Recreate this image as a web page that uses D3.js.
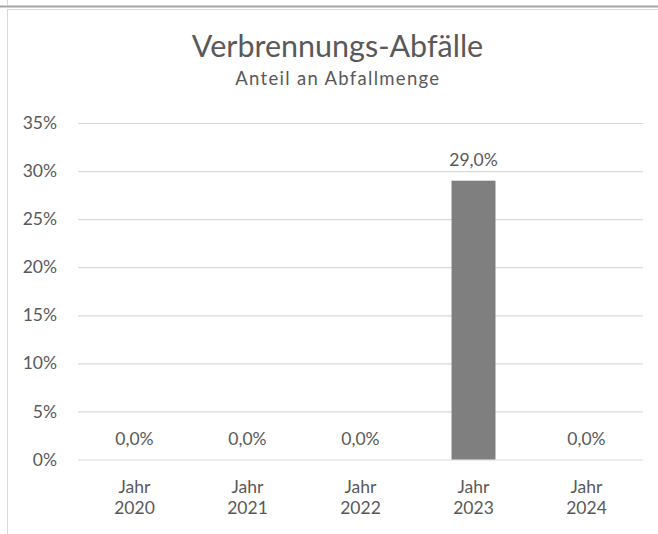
<!DOCTYPE html>
<html>
<head>
<meta charset="utf-8">
<script src="https://cdn.jsdelivr.net/npm/d3@7/dist/d3.min.js"></script>
<style>
  html, body { margin: 0; padding: 0; background: #ffffff; }
  svg { display: block; }
  text { font-family: Lato, "Noto Sans", sans-serif; fill: #595959; }
</style>
</head>
<body>
<svg id="chart" width="658" height="534"></svg>
<script>
// ---- data ----
const categories = ["Jahr 2020", "Jahr 2021", "Jahr 2022", "Jahr 2023", "Jahr 2024"];
const values = [0.0, 0.0, 0.0, 0.29, 0.0];
const yTicks = [0, 0.05, 0.10, 0.15, 0.20, 0.25, 0.30, 0.35];
const title = "Verbrennungs-Abfälle";
const subtitle = "Anteil an Abfallmenge";

// ---- setup ----
const svg = d3.select("#chart");
const W = 658, H = 534;
const plot = { left: 78, right: 643, top: 123, bottom: 459.5 };

const de = d3.formatLocale({ decimal: ",", thousands: ".", grouping: [3], currency: ["", " €"] });
const fmtVal = de.format(".1%");
const fmtTick = de.format(".0%");

// frame lines (surrounding sheet elements)
svg.append("line").attr("x1", 7.5).attr("x2", 7.5).attr("y1", 0).attr("y2", 5)
  .attr("stroke", "#d9d9d9").attr("stroke-width", 1);
svg.append("line").attr("x1", 0).attr("x2", W).attr("y1", 6.5).attr("y2", 6.5)
  .attr("stroke", "#a6a6a6").attr("stroke-width", 2);
svg.append("rect").attr("x", 7.5).attr("y", 9.5).attr("width", W + 20).attr("height", H + 20)
  .attr("fill", "#ffffff").attr("stroke", "#d9d9d9").attr("stroke-width", 1);

const x = d3.scaleBand().domain(categories)
  .range([plot.left, plot.right]).paddingInner(0.611).paddingOuter(0.3055);
const y = d3.scaleLinear().domain([0, 0.35]).range([plot.bottom, plot.top]);

// gridlines via axis
const yAxis = d3.axisLeft(y).tickValues(yTicks).tickFormat(fmtTick)
  .tickSize(-(plot.right - plot.left)).tickPadding(21);
const gy = svg.append("g").attr("transform", `translate(${plot.left},0)`).call(yAxis);
gy.select(".domain").remove();
gy.selectAll(".tick line").attr("stroke", "#d9d9d9").attr("stroke-width", 1.2);
gy.selectAll(".tick text").attr("fill", "#595959").style("font-size", "17.5px")
  .style("font-family", "Lato, 'Noto Sans', sans-serif");

// bars
svg.append("g").selectAll("rect").data(values).join("rect")
  .attr("x", (d, i) => x(categories[i]))
  .attr("width", x.bandwidth())
  .attr("y", d => y(d))
  .attr("height", d => y(0) - y(d))
  .attr("fill", "#7f7f7f");

// data labels
svg.append("g").selectAll("text").data(values).join("text")
  .attr("x", (d, i) => x(categories[i]) + x.bandwidth() / 2)
  .attr("y", d => y(d) - 15)
  .attr("text-anchor", "middle")
  .style("font-size", "17.5px")
  .text(d => fmtVal(d));

// x axis labels (two lines)
const xl = svg.append("g").selectAll("text").data(categories).join("text")
  .attr("text-anchor", "middle")
  .attr("x", d => x(d) + x.bandwidth() / 2)
  .attr("y", y(0) + 33.5)
  .style("font-size", "17.5px");
xl.each(function (d) {
  const parts = d.split(" ");
  const t = d3.select(this);
  parts.forEach((p, k) => {
    t.append("tspan").attr("x", x(d) + x.bandwidth() / 2)
      .attr("dy", k === 0 ? 0 : 21).text(p);
  });
});

// titles
svg.append("text").attr("x", 337.5).attr("y", 56.5).attr("text-anchor", "middle")
  .style("font-size", "30.5px").text(title);
svg.append("text").attr("x", 337.8).attr("y", 85).attr("text-anchor", "middle")
  .style("font-size", "18.5px").style("letter-spacing", "1.3px").text(subtitle);
</script>
</body>
</html>
